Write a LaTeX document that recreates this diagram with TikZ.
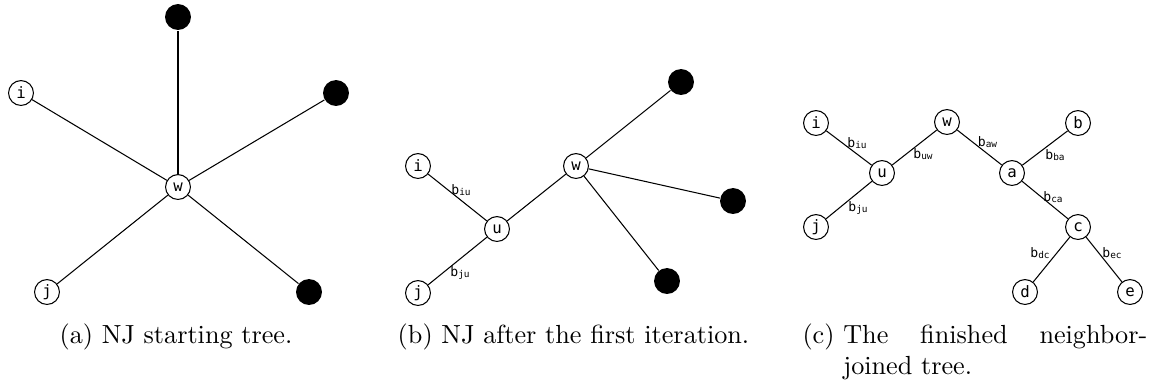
\documentclass[tikz,border=0pt]{standalone}
\usepackage{fontspec}
\newfontfamily\monofont{DejaVu Sans Mono}
% branch length label: b with a small subscript
\newcommand\blen[1]{b\raisebox{-0.4pt}{\fontsize{3.6}{4}\selectfont #1}}

\begin{document}
\begin{tikzpicture}[x=0.3817pt, y=-0.3817pt,
  vtx/.style={circle, draw, fill=white, line width=0.4pt, minimum size=9.5pt,
    inner sep=0pt, font=\monofont\fontsize{6}{6}\selectfont},
  leaf/.style={circle, fill=black, minimum size=9.9pt, inner sep=0pt},
  lbl/.style={inner sep=0pt, font=\monofont\fontsize{5}{6}\selectfont},
  captext/.style={inner sep=0pt, font=\fontsize{10}{12}\selectfont}]
\useasboundingbox (0,0) rectangle (1153,387);

% (a) star tree
\node[vtx] (aw) at (178,187) {w};
\node[vtx] (ai) at (21,93) {i};
\node[vtx] (aj) at (47,292) {j};
\node[leaf] (ak) at (178,17) {};
\node[leaf] (al) at (336,93) {};
\node[leaf] (am) at (309,292) {};
\draw (aw) -- (ai);
\draw (aw) -- (aj);
\draw (aw) -- (ak);
\draw (aw) -- (al);
\draw (aw) -- (am);
\node[captext, anchor=base] (capa) at (176,343) {(a) NJ starting tree.};

% (b) after joining i and j
\node[vtx] (bi) at (418,166) {i};
\node[vtx] (bu) at (497,229) {u};
\node[vtx] (bw) at (576,166) {w};
\node[vtx] (bj) at (418,293) {j};
\node[leaf] (bk) at (681,82) {};
\node[leaf] (bl) at (733,201) {};
\node[leaf] (bm) at (667,281) {};
\draw (bi) -- node[lbl, shift={(3.5,-7.5)}] {\blen{iu}} (bu);
\draw (bj) -- node[lbl, shift={(2.5,12)}] {\blen{ju}} (bu);
\draw (bu) -- (bw);
\draw (bw) -- (bk);
\draw (bw) -- (bl);
\draw (bw) -- (bm);
\node[captext, anchor=base] (capb) at (573.5,343) {(b) NJ after the first iteration.};

% (c) finished tree
\node[vtx] (ci) at (816,123) {i};
\node[vtx] (cw) at (947,122) {w};
\node[vtx] (cb) at (1078,123) {b};
\node[vtx] (cu) at (882,173) {u};
\node[vtx] (ca) at (1012,173) {a};
\node[vtx] (cj) at (816,227) {j};
\node[vtx] (cc) at (1078,227) {c};
\node[vtx] (cd) at (1025,292) {d};
\node[vtx] (ce) at (1130,292) {e};
\draw (ci) -- node[lbl, shift={(8,-5)}] {\blen{iu}} (cu);
\draw (cu) -- node[lbl, shift={(8.5,7)}] {\blen{uw}} (cw);
\draw (cw) -- node[lbl, shift={(8,-5)}] {\blen{aw}} (ca);
\draw (ca) -- node[lbl, shift={(10,7)}] {\blen{ba}} (cb);
\draw (cu) -- node[lbl, shift={(9,8)}] {\blen{ju}} (cj);
\draw (ca) -- node[lbl, shift={(8,-3)}] {\blen{ca}} (cc);
\draw (cc) -- node[lbl, shift={(-11.5,-6.5)}] {\blen{dc}} (cd);
\draw (cc) -- node[lbl, shift={(8,-6.5)}] {\blen{ec}} (ce);
% caption with hanging label: the text block sits beside "(c)"
\node[captext, anchor=base west] (capc) at (802,343)
  {(c)\hspace{3.33pt}\parbox[t]{116.05pt}{The finished neighbor-\linebreak joined tree.}};
\end{tikzpicture}
\end{document}
